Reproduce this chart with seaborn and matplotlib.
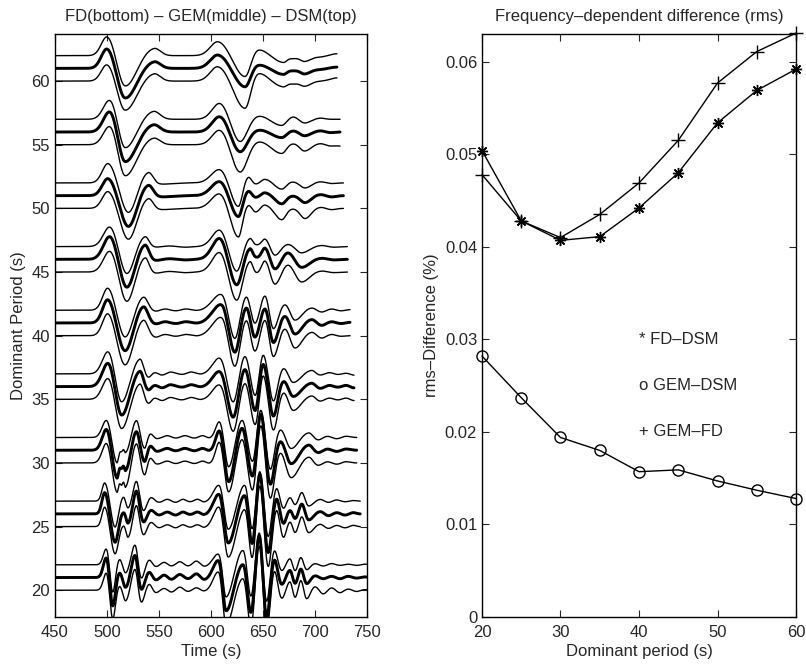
import numpy as np
import matplotlib
matplotlib.use("Agg")
import matplotlib.pyplot as plt
import seaborn as sns

# ---- right panel: rms differences vs dominant period ----
periods = [20, 25, 30, 35, 40, 45, 50, 55, 60]
fd_dsm = [0.0504, 0.0428, 0.0407, 0.0411, 0.0442, 0.0480, 0.0534, 0.0569, 0.0592]
gem_dsm = [0.0282, 0.0237, 0.0194, 0.0180, 0.0157, 0.0159, 0.0147, 0.0137, 0.0128]
gem_fd = [0.0478, 0.0428, 0.0410, 0.0435, 0.0469, 0.0515, 0.0577, 0.0611, 0.0631]

# ---- left panel: seismogram extrema (time s, amplitude) ----
t20 = [492, 499.5, 505.5, 512, 518, 527, 533, 540.5, 547, 555, 562, 570, 578, 586, 594, 607.5, 614.5,
       631, 638.5, 646.5, 653.5, 661, 668, 676, 681, 686.5, 692, 700, 708, 716, 724, 732, 740, 748]
gem20 = [0, 1.6, -2.3, 0.45, -0.85, 1.8, -1.0, 0.45, -0.2, 0.2, -0.15, 0.25, -0.1, 0.3, -0.2, 1.4, -2.7,
         1.2, -2.9, 3.5, -3.3, 1.5, -0.6, 0.6, -0.5, 0.7, -0.5, 0.15, -0.1, 0.1, -0.1, 0.1, -0.05, 0.05]
dsm20 = [0, 1.3, -2.2, 0.5, -0.7, 1.6, -1.1, 0.4, -0.15, 0.2, -0.1, 0.25, -0.1, 0.3, -0.15, 0.9, -2.6,
         1.3, -2.6, 2.7, -3.0, 1.2, -0.5, 0.5, -0.5, 0.6, -0.4, 0.1, -0.1, 0.1, -0.05, 0.05, -0.05, 0.05]
fd20 = [0, 1.4, -2.3, 0.4, -0.9, 1.7, -1.0, 0.5, -0.2, 0.15, -0.15, 0.25, -0.1, 0.2, -0.1, 1.5, -2.8,
        1.1, -3.0, 3.7, -3.4, 1.6, -0.7, 0.7, -0.6, 0.8, -0.7, 0.3, -0.3, 0.2, -0.2, 0.1, -0.1, 0.05]

t25 = [491, 498, 507.7, 515.8, 520.3, 528.3, 535, 542.3, 550, 558, 566, 573, 580, 587, 594, 608, 616.6,
       632.6, 639.7, 647, 655, 663, 669.7, 676, 681, 687.4, 693.8, 705, 713, 721, 729, 737, 743]
gem25 = [0, 1.75, -2.3, 0.2, -0.8, 1.85, -0.7, 0.3, -0.1, 0.15, -0.1, 0.15, -0.05, 0.15, -0.1, 1.6, -2.4,
         1.6, -2.5, 3.3, -3.2, 1.3, -0.8, 0.3, -0.4, 0.8, -0.5, 0.2, -0.15, 0.1, -0.1, 0.1, 0.0]
dsm25 = [0, 1.5, -2.1, 0.4, -0.6, 1.6, -0.8, 0.3, -0.1, 0.15, -0.1, 0.15, -0.05, 0.15, -0.1, 1.3, -2.3,
         1.4, -2.3, 2.5, -2.9, 1.1, -0.6, 0.3, -0.3, 0.7, -0.4, 0.15, -0.1, 0.1, -0.05, 0.05, 0.0]
fd25 = [0, 1.6, -2.2, 0.15, -0.9, 1.7, -0.7, 0.35, -0.1, 0.15, -0.1, 0.15, -0.05, 0.15, -0.1, 1.6, -2.5,
        1.5, -2.6, 3.4, -3.3, 1.4, -0.9, 0.4, -0.5, 0.8, -0.5, 0.2, -0.15, 0.1, -0.1, 0.1, 0.0]

t30 = [489, 499.7, 509.5, 514, 518, 528.3, 536, 541.7, 548, 558, 566, 575, 584, 592, 599, 608.3, 617,
       630, 640, 648, 657, 666.6, 677, 694, 703, 712, 721, 730, 740]
gem30 = [0, 1.7, -2.2, -1.3, -1.6, 1.55, -0.95, 0.35, -0.1, 0.15, -0.05, 0.15, -0.05, 0.15, -0.05, 1.6, -2.6,
         1.9, -2.2, 3.0, -2.8, 0.8, -1.1, 0.45, -0.2, 0.1, -0.1, 0.1, 0.0]
dsm30 = [0, 1.4, -2.0, -1.0, -1.2, 1.4, -0.9, 0.3, -0.1, 0.15, -0.05, 0.15, -0.05, 0.15, -0.05, 1.3, -2.4,
         1.5, -2.0, 2.3, -2.6, 0.7, -0.9, 0.4, -0.2, 0.1, -0.1, 0.1, 0.0]
fd30 = [0, 1.6, -2.3, -1.6, -1.9, 1.6, -1.0, 0.4, -0.1, 0.15, -0.05, 0.15, -0.05, 0.15, -0.05, 1.7, -2.4,
        2.0, -2.3, 3.1, -2.9, 0.9, -1.2, 0.5, -0.2, 0.1, -0.1, 0.1, 0.0]

t35 = [487, 501.3, 514, 531.7, 539.7, 546, 553, 561, 572, 581, 591, 608.7, 621.4, 632.7, 642.6, 650.3,
       660, 669.7, 679, 696.8, 705, 714, 722, 730, 737.5]
gem35 = [0, 1.9, -2.35, 1.3, -0.3, 0.1, -0.1, 0.15, -0.05, 0.15, -0.05, 1.25, -2.5, 1.5, -2.0, 1.9,
         -2.4, 0.5, -0.8, 0.3, -0.15, 0.1, -0.05, 0.1, -0.1]
dsm35 = [0, 1.8, -2.3, 1.25, -0.3, 0.1, -0.1, 0.15, -0.05, 0.15, -0.05, 1.3, -2.3, 1.5, -1.8, 1.6,
         -2.2, 0.5, -0.7, 0.3, -0.1, 0.1, -0.05, 0.05, -0.1]
fd35 = [0, 1.7, -2.4, 1.3, -0.35, 0.1, -0.1, 0.15, -0.05, 0.15, -0.05, 1.2, -2.6, 1.4, -2.1, 2.0,
        -2.5, 0.6, -0.9, 0.3, -0.15, 0.1, -0.05, 0.1, -0.1]

t40 = [488, 501, 517.3, 535, 546, 556, 566, 576, 588, 610.3, 623, 634, 642.3, 652, 660, 671, 680.7,
       696.8, 706.4, 716, 725, 733.6]
gem40 = [0, 1.9, -2.3, 1.35, -0.1, 0.1, -0.05, 0.1, -0.05, 1.5, -2.4, 1.3, -1.2, 1.2, -1.6, 0.6, -0.9,
         0.3, -0.2, 0.1, -0.05, 0.05]
dsm40 = [0, 1.8, -2.2, 1.1, -0.1, 0.1, -0.05, 0.1, -0.05, 1.3, -2.3, 1.15, -1.1, 1.2, -1.5, 0.5, -0.8,
         0.2, -0.15, 0.1, -0.05, 0.05]
fd40 = [0, 1.8, -2.4, 1.3, -0.15, 0.1, -0.05, 0.1, -0.05, 1.5, -2.5, 1.3, -1.3, 1.3, -1.7, 0.6, -1.0,
        0.3, -0.2, 0.1, -0.05, 0.0]

t45 = [487, 503, 519, 536.5, 546, 560, 575, 590, 608.6, 624.7, 637.5, 644, 652, 661.5, 674, 687, 706, 718, 732]
gem45 = [0, 1.85, -2.3, 1.2, -0.1, 0.05, -0.05, 0, 1.7, -2.1, 0.9, 0.1, 0.9, -0.8, 0.55, -0.65, 0.1, -0.05, 0.0]
dsm45 = [0, 1.6, -2.2, 0.85, -0.05, 0.05, -0.05, 0, 1.35, -2.0, 0.7, 0.1, 0.6, -0.7, 0.2, -0.5, 0.1, -0.05, 0.0]
fd45 = [0, 1.7, -2.4, 1.2, -0.1, 0.05, -0.05, 0, 1.6, -2.3, 0.9, -0.1, 0.9, -1.0, 0.6, -0.8, 0.1, -0.05, 0.0]

t50 = [487, 501.3, 520.5, 539.7, 551, 588, 608.7, 626.3, 635.9, 643, 651.9, 668, 678.6, 690.5, 705, 716, 727]
gem50 = [0, 1.42, -2.5, 0.9, -0.1, 0, 1.15, -1.7, 0.4, -0.15, 0.25, -0.65, 0.0, -0.55, 0.1, -0.1, 0.0]
dsm50 = [0, 1.6, -2.4, 0.9, -0.1, 0, 1.1, -1.9, 0.5, -0.1, 0.3, -0.5, 0.1, -0.4, 0.1, -0.05, 0.0]
fd50 = [0, 1.4, -2.5, 0.85, -0.1, 0, 1.2, -2.3, 0.3, -0.3, 0.3, -0.9, 0.0, -0.8, 0.1, -0.1, 0.0]

t55 = [487, 502.9, 517.3, 544.5, 560, 590, 608.7, 627.9, 645.5, 668, 679, 690, 705, 715, 724]
gem55 = [0, 1.65, -2.4, 0.65, 0, 0, 1.25, -1.6, 0.2, -0.45, 0.1, -0.3, 0.1, -0.05, 0.0]
dsm55 = [0, 1.55, -2.3, 0.7, 0, 0, 1.3, -1.8, 0.3, -0.5, 0.2, -0.3, 0.1, 0.0, 0.0]
fd55 = [0, 1.5, -2.5, 0.6, 0, 0, 1.2, -2.2, 0.3, -0.7, 0.1, -0.5, 0.1, -0.1, -0.1]

t60 = [486, 500.3, 517.3, 545.2, 560, 588, 607, 632.7, 645.5, 669.5, 679, 690, 705, 721]
gem60 = [0, 1.6, -2.4, 0.6, 0, 0, 1.1, -1.5, 0.3, -0.48, -0.16, -0.43, -0.08, 0.1]
dsm60 = [0, 1.55, -2.45, 0.65, 0, 0, 1.15, -1.7, 0.5, -0.55, -0.2, -0.45, -0.1, 0.15]
fd60 = [0, 1.35, -2.35, 0.65, 0, 0, 1.2, -2.2, 0.65, -0.47, -0.2, -0.4, 0.0, 0.25]

trace_end = [750, 743.5, 740, 737.5, 733.6, 731, 727.3, 724, 721]

knot_times = [t20, t25, t30, t35, t40, t45, t50, t55, t60]
gem_amp = [gem20, gem25, gem30, gem35, gem40, gem45, gem50, gem55, gem60]
dsm_amp = [dsm20, dsm25, dsm30, dsm35, dsm40, dsm45, dsm50, dsm55, dsm60]
fd_amp = [fd20, fd25, fd30, fd35, fd40, fd45, fd50, fd55, fd60]


def seismogram(kt, kv, t_end):
    # each picked extremum becomes a smooth pulse, its width set by the gap to its neighbours
    kt = np.asarray(kt, float)
    kv = np.asarray(kv, float)
    gaps = np.minimum(np.diff(kt), 30)
    left = np.concatenate([[gaps[0]], gaps])
    right = np.concatenate([gaps, [gaps[-1]]])
    t = np.arange(450, t_end + 0.2, 0.2)
    y = np.zeros_like(t)
    for ti, vi, wl, wr in zip(kt, kv, left, right):
        w = np.where(t < ti, 0.55 * wl, 0.55 * wr)
        y += vi * np.exp(-((t - ti) / w) ** 2)
    return t, y


sns.set_style("ticks")
plt.rcParams['font.family'] = ['Liberation Sans', 'DejaVu Sans']
plt.rcParams['font.size'] = 12
plt.rcParams['xtick.direction'] = 'in'
plt.rcParams['ytick.direction'] = 'in'
plt.rcParams['xtick.top'] = True
plt.rcParams['ytick.right'] = True
plt.rcParams['xtick.major.size'] = 5
plt.rcParams['ytick.major.size'] = 5
plt.rcParams['xtick.major.pad'] = 6
plt.rcParams['axes.linewidth'] = 1.0

fig = plt.figure(figsize=(8.06, 6.64), dpi=100)
ax1 = fig.add_axes([0.0682, 0.0708, 0.387, 0.878])
ax2 = fig.add_axes([0.598, 0.0708, 0.3896, 0.878])

# Left: three synthetics per dominant period
for i, p in enumerate(periods):
    for amp, base, lw in [(fd_amp[i], p, 1.0), (gem_amp[i], p + 1, 2.1), (dsm_amp[i], p + 2, 1.0)]:
        t, y = seismogram(knot_times[i], amp, trace_end[i])
        sns.lineplot(x=t, y=y + base, color='k', linewidth=lw, sort=False, estimator=None, ax=ax1)

ax1.set_xlim(450, 750)
ax1.set_ylim(17.9, 63.7)
ax1.set_xticks(range(450, 751, 50))
ax1.set_yticks(range(20, 61, 5))
ax1.set_xlabel('Time (s)', labelpad=3)
ax1.set_ylabel('Dominant Period (s)', labelpad=4)
ax1.set_title('FD(bottom) \u2013 GEM(middle) \u2013 DSM(top)', fontsize=12, pad=9)

# Right: rms difference curves
sns.lineplot(x=periods, y=gem_fd, color='k', linewidth=1.0, marker='+', markersize=10,
             markeredgecolor='k', markeredgewidth=1.0, clip_on=False, ax=ax2)
sns.lineplot(x=periods, y=fd_dsm, color='k', linewidth=1.0, marker=(8, 2, 0), markersize=8,
             markeredgecolor='k', markeredgewidth=1.0, clip_on=False, ax=ax2)
sns.lineplot(x=periods, y=gem_dsm, color='k', linewidth=1.0, marker='o', markersize=8,
             markerfacecolor='none', markeredgecolor='k', markeredgewidth=1.0, clip_on=False, ax=ax2)

ax2.text(40, 0.030, '* FD\u2013DSM', ha='left', va='center', fontsize=12)
ax2.text(40, 0.025, 'o GEM\u2013DSM', ha='left', va='center', fontsize=12)
ax2.text(40, 0.020, '+ GEM\u2013FD', ha='left', va='center', fontsize=12)

ax2.set_xlim(20, 60)
ax2.set_ylim(0, 0.063)
ax2.set_xticks(range(20, 61, 10))
ax2.set_yticks([0, 0.01, 0.02, 0.03, 0.04, 0.05, 0.06])
ax2.set_yticklabels(['0', '0.01', '0.02', '0.03', '0.04', '0.05', '0.06'])
ax2.set_xlabel('Dominant period (s)', labelpad=3)
ax2.set_ylabel('rms\u2013Difference (%)', labelpad=4)
ax2.set_title('Frequency\u2013dependent difference (rms)', fontsize=12, pad=9)

for ax in (ax1, ax2):
    for s in ax.spines.values():
        s.set_visible(True)
        s.set_color('k')

fig.savefig('out.png', dpi=100)
